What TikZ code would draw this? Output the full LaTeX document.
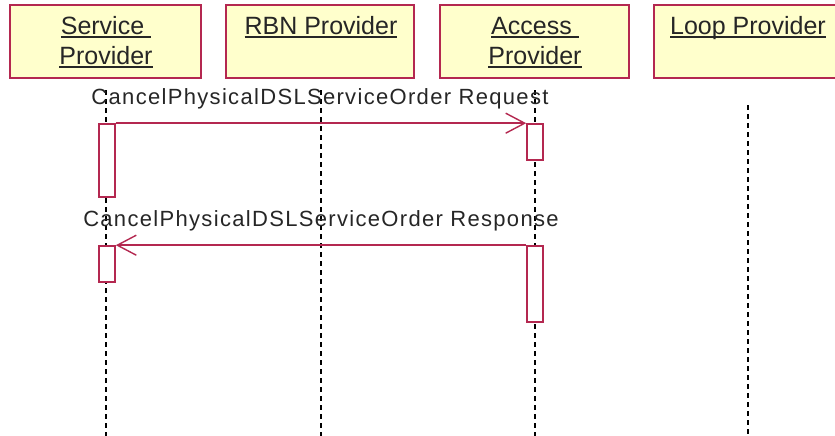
\documentclass[tikz,border=0pt]{standalone}
\usepackage{fontspec}
\setmainfont{Liberation Sans}
\newfontfamily\lblfont[LetterSpace=6]{Liberation Sans}
\usetikzlibrary{arrows.meta}
\definecolor{bordc}{RGB}{180,40,80}
\definecolor{hfill}{RGB}{255,255,204}
\newcommand\hul[1]{\setbox0\hbox{#1}\rlap{\rule[-3pt]{\wd0}{1.6pt}}\box0}
\tikzset{
  hbox/.style={draw=bordc, fill=hfill, line width=2pt, inner sep=0pt, minimum height=73pt},
  htext/.style={anchor=base, inner sep=0pt, font=\fontsize{25pt}{30pt}\selectfont, text=black!85},
  lifeline/.style={draw=black, line width=1.7pt, dash pattern=on 5pt off 4pt},
  actbox/.style={draw=bordc, fill=white, line width=1.6pt, inner sep=0pt, minimum width=16pt},
  msg/.style={draw=bordc, line width=1.6pt, -{Straight Barb[length=19pt,width=20pt,line width=1.4pt]}},
  lbl/.style={anchor=base, inner sep=0pt, font=\lblfont\fontsize{22pt}{26pt}\selectfont, text=black!85}
}
\begin{document}
\begin{tikzpicture}[x=1pt,y=-1pt]
\useasboundingbox (0,0) rectangle (835,436);
\fill[white] (0,0) rectangle (835,436);
% header boxes
\node[hbox, minimum width=191pt] (sp) at (105.5,41.5) {};
\node[hbox, minimum width=188pt] (rbn) at (320,41.5) {};
\node[hbox, minimum width=189pt] (ap) at (534.5,41.5) {};
\node[hbox, minimum width=188pt] (lp) at (748,41.5) {};
\node[htext] (spt1) at (106,35) {\hul{Service\ }};
\node[htext] (spt2) at (106,65) {\hul{Provider}};
\node[htext] (rbnt) at (321,35) {\hul{RBN Provider}};
\node[htext] (apt1) at (535,35) {\hul{Access\ }};
\node[htext] (apt2) at (535,65) {\hul{Provider}};
\node[htext] (lpt) at (748,35) {\hul{Loop Provider}};
% lifelines
\coordinate (spb) at (106,436);
\coordinate (rbnb) at (321,436);
\coordinate (apb) at (535,436);
\coordinate (lpb) at (748,436);
\coordinate (spa) at (106,90);
\coordinate (rbna) at (321,90);
\coordinate (apa) at (535,90);
\coordinate (lpa) at (748,105);
\draw[lifeline] (spa) -- (spb);
\draw[lifeline] (rbna) -- (rbnb);
\draw[lifeline] (apa) -- (apb);
\draw[lifeline] (lpa) -- (lpb);
% activations
\node[actbox, minimum height=73pt] (spx1) at (107,160.5) {};
\node[actbox, minimum height=36pt] (apx1) at (535,142) {};
\node[actbox, minimum height=36pt] (spx2) at (107,264) {};
\node[actbox, minimum height=76pt] (apx2) at (535,284) {};
% messages
\draw[msg] (spx1.north east) -- (apx1.north west);
\draw[msg] (apx2.north west) -- (spx2.north east);
\node[lbl] (m1) at (320,104) {CancelPhysicalDSLServiceOrder Request};
\node[lbl] (m2) at (321,226) {CancelPhysicalDSLServiceOrder Response};
\end{tikzpicture}
\end{document}
